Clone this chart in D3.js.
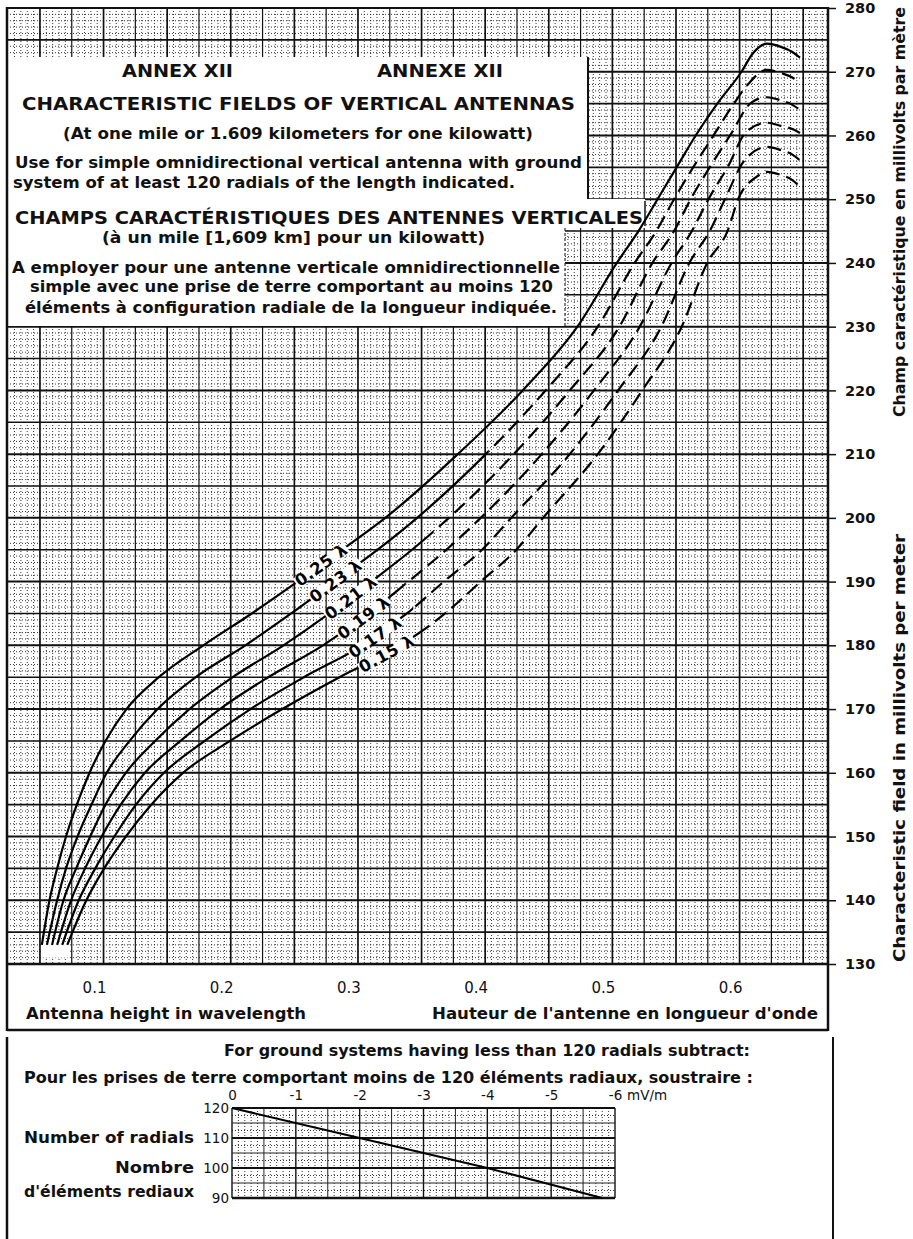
<!DOCTYPE html>
<html>
<head>
<meta charset="utf-8">
<script src="https://cdn.jsdelivr.net/npm/d3@7"></script>
<style>
body { margin: 0; background: #fff; }
svg { display: block; font-family: "DejaVu Sans", sans-serif; }
</style>
</head>
<body>
<svg id="chart" width="913" height="1239"></svg>
<script>
// ---- data ----
var radialLabels = ["0.25 λ", "0.23 λ", "0.21 λ", "0.19 λ", "0.17 λ", "0.15 λ"];

var height25 = [0.059,0.065,0.071,0.078,0.0865,0.0965,0.109,0.1255,0.151,0.186,0.224,0.260,0.295,0.329,0.386,0.437,0.480,0.511,0.528,0.543,0.558,0.573,0.590,0.609,0.618,0.629,0.640,0.649,0.655];
var field25  = [133,140,145,150,155,160,165,170,175,180,185,190,195,200,210,220,230,240,245,250,255,260,265,270,272.9,274.4,273.9,273.1,272.2];

var height23 = [0.063,0.071,0.078,0.087,0.098,0.110,0.128,0.150,0.180,0.219,0.255,0.289,0.323,0.354,0.408,0.455,0.496,0.525,0.542,0.556,0.571,0.587,0.603,0.614,0.629,0.640,0.649,0.655];
var field23  = [133,140,145,150,155,160,165,170,175,180,185,190,195,200,210,220,230,240,245,250,255,260,265,268,270.3,269.8,269.1,268.2];

var height21 = [0.067,0.076,0.086,0.097,0.109,0.125,0.148,0.175,0.209,0.249,0.285,0.318,0.350,0.379,0.430,0.474,0.513,0.539,0.556,0.569,0.584,0.600,0.617,0.629,0.640,0.649,0.655];
var field21  = [133,140,145,150,155,160,165,170,175,180,185,190,195,200,210,220,230,240,245,250,255,260,265.2,266,265.5,264.8,264];

var height19 = [0.071,0.082,0.093,0.106,0.121,0.140,0.168,0.199,0.237,0.280,0.316,0.347,0.377,0.404,0.452,0.493,0.529,0.554,0.570,0.583,0.598,0.613,0.629,0.640,0.649,0.655];
var field19  = [133,140,145,150,155,160,165,170,175,180,185,190,195,200,210,220,230,240,245,250,255,260.6,262,261.5,261,260.4];

var height17 = [0.075,0.088,0.101,0.116,0.133,0.155,0.187,0.223,0.265,0.311,0.346,0.375,0.405,0.428,0.474,0.512,0.546,0.568,0.584,0.596,0.611,0.629,0.640,0.649,0.655];
var field17  = [133,140,145,150,155,160,165,170,175,180,185,190,195,200,210,220,230,240,245,250,256,258.2,257.7,257,256.1];

var height15 = [0.079,0.094,0.108,0.125,0.145,0.170,0.207,0.248,0.293,0.341,0.376,0.404,0.432,0.453,0.496,0.531,0.562,0.582,0.598,0.607,0.620,0.629,0.640,0.649,0.655];
var field15  = [133,140,145,150,155,160,165,170,175,180,185,190,195,200,210,220,230,240,245,250.3,253.4,254.3,253.8,253,251.9];

var heightTicks = [0.1, 0.2, 0.3, 0.4, 0.5, 0.6];
var fieldTicks = [130,140,150,160,170,180,190,200,210,220,230,240,250,260,270,280];

// small chart: radials vs correction
var radialCounts = [120, 110, 100, 90];
var correction = [0, -2, -4, -5.8];
var correctionTicks = [0, -1, -2, -3, -4, -5, -6];

// ---- layout ----
var svg = d3.select("#chart");
var x = d3.scaleLinear().domain([0.0316, 0.677]).range([7, 828]);
var y = d3.scaleLinear().domain([130, 280]).range([964, 8]);

var series = [
  {label: radialLabels[0], h: height25, f: field25, dashFrom: null, labelAt: 0.2785},
  {label: radialLabels[1], h: height23, f: field23, dashFrom: 0.41, labelAt: 0.290},
  {label: radialLabels[2], h: height21, f: field21, dashFrom: 0.367, labelAt: 0.302},
  {label: radialLabels[3], h: height19, f: field19, dashFrom: 0.345, labelAt: 0.312},
  {label: radialLabels[4], h: height17, f: field17, dashFrom: 0.351, labelAt: 0.321},
  {label: radialLabels[5], h: height15, f: field15, dashFrom: 0.357, labelAt: 0.330}
];

var defs = svg.append("defs");

// graph paper
var grid = svg.append("g");
var x0 = x.range()[0], x1 = x.range()[1];

for (var v = 130; v <= 280; v++) {
  var line = grid.append("line")
    .attr("x1", x0).attr("x2", x1)
    .attr("y1", y(v)).attr("y2", y(v));
  if (v % 10 == 0) line.attr("stroke", "#111").attr("stroke-width", 2);
  else if (v % 5 == 0) line.attr("stroke", "#111").attr("stroke-width", 1.6);
  else line.attr("stroke", "#222").attr("stroke-width", 0.9).attr("stroke-dasharray", "1,2");
}
for (var i = 1; ; i++) {
  var hv = 0.0325 + i * 0.005;
  if (x(hv) > x1 - 2) break;
  var vl = grid.append("line")
    .attr("x1", x(hv)).attr("x2", x(hv))
    .attr("y1", y(280)).attr("y2", y(130));
  if (i % 10 == 5) vl.attr("stroke", "#111").attr("stroke-width", 1.7);
  else if (i % 5 == 0) vl.attr("stroke", "#111").attr("stroke-width", 1.2);
  else vl.attr("stroke", "#222").attr("stroke-width", 0.9).attr("stroke-dasharray", "1,2");
}

// blank patch where the curves start
svg.append("rect")
  .attr("x", x(0.059)).attr("y", y(133.3))
  .attr("width", x(0.080) - x(0.059)).attr("height", y(131) - y(133.3))
  .attr("fill", "#fff");

// white title box over the paper
var boxPts = [[7,57],[588,57],[588,199],[645,199],[645,228],[565,228],[565,326],[7,326]];
svg.append("polygon")
  .attr("points", boxPts.map(function(p){ return p.join(","); }).join(" "))
  .attr("fill", "#fff");
svg.append("polyline")
  .attr("points", "588,57 588,199")
  .attr("fill", "none").attr("stroke", "#111").attr("stroke-width", 2);
svg.append("polyline")
  .attr("points", "645,201 645,226")
  .attr("fill", "none").attr("stroke", "#111").attr("stroke-width", 1.5);
svg.append("polyline")
  .attr("points", "565,228 565,326")
  .attr("fill", "none").attr("stroke", "#333").attr("stroke-width", 1.2).attr("stroke-dasharray", "3,2");

var boxText = [
  ["ANNEX XII", 122, 233, 77, 17],
  ["ANNEXE XII", 377, 503, 77, 17],
  ["CHARACTERISTIC FIELDS OF VERTICAL ANTENNAS", 22, 575, 110, 18],
  ["(At one mile or 1.609 kilometers for one kilowatt)", 63, 533, 139, 15.5],
  ["Use for simple omnidirectional vertical antenna with ground", 15, 582, 168, 15.5],
  ["system of at least 120 radials of the length indicated.", 13, 515, 188, 15.5],
  ["CHAMPS CARACTÉRISTIQUES DES ANTENNES VERTICALES", 15, 643, 224, 18],
  ["(à un mile [1,609 km]  pour un kilowatt)", 102, 485, 243, 15.5],
  ["A employer pour une antenne verticale omnidirectionnelle", 12, 560, 273, 15.5],
  ["simple  avec une prise de terre comportant au moins 120", 30, 553, 292, 15.5],
  ["éléments à  configuration radiale de la longueur indiquée.", 25, 557, 313, 15.5]
];
svg.append("g").selectAll("text")
  .data(boxText)
  .enter()
  .append("text")
    .attr("x", function(d){ return d[1]; })
    .attr("y", function(d){ return d[3]; })
    .attr("textLength", function(d){ return d[2] - d[1]; })
    .attr("lengthAdjust", "spacingAndGlyphs")
    .style("font-size", function(d){ return d[4] + "px"; })
    .style("font-weight", "bold")
    .attr("fill", "#111")
    .text(function(d){ return d[0]; });

// curves
var curve = d3.line()
  .x(function(d){ return x(d[0]); })
  .y(function(d){ return y(d[1]); })
  .curve(d3.curveMonotoneX);

var curveG = svg.append("g");
series.forEach(function(s, k) {
  var pts = s.h.map(function(h, j){ return [h, s.f[j]]; });
  if (s.dashFrom == null) {
    curveG.append("path").attr("d", curve(pts))
      .attr("fill", "none").attr("stroke", "#000").attr("stroke-width", 2.2);
  } else {
    defs.append("clipPath").attr("id", "solid" + k).append("rect")
      .attr("x", 0).attr("y", 0).attr("width", x(s.dashFrom)).attr("height", 1239);
    defs.append("clipPath").attr("id", "dash" + k).append("rect")
      .attr("x", x(s.dashFrom)).attr("y", 0).attr("width", 913).attr("height", 1239);
    curveG.append("path").attr("d", curve(pts))
      .attr("clip-path", "url(#solid" + k + ")")
      .attr("fill", "none").attr("stroke", "#000").attr("stroke-width", 2.2);
    curveG.append("path").attr("d", curve(pts))
      .attr("clip-path", "url(#dash" + k + ")")
      .attr("fill", "none").attr("stroke", "#000").attr("stroke-width", 2.2)
      .attr("stroke-dasharray", "14,7");
  }
  s.pts = pts;
});

// inline labels along each curve, on a white patch that breaks the line
var probe = svg.append("path").attr("fill", "none").attr("stroke", "none");
series.forEach(function(s) {
  probe.attr("d", curve(s.pts));
  var node = probe.node(), total = node.getTotalLength();
  var tx = x(s.labelAt), lo = 0, hi = total;
  while (hi - lo > 0.5) {
    var mid = (lo + hi) / 2;
    if (node.getPointAtLength(mid).x < tx) lo = mid; else hi = mid;
  }
  var p = node.getPointAtLength(lo);
  var a = node.getPointAtLength(Math.max(0, lo - 10)), b = node.getPointAtLength(Math.min(total, lo + 10));
  var ang = Math.atan2(b.y - a.y, b.x - a.x) * 180 / Math.PI;
  var lg = svg.append("g")
    .attr("transform", "translate(" + p.x + "," + p.y + ") rotate(" + ang + ")");
  var bg = lg.append("rect").attr("fill", "#fff");
  var t = lg.append("text")
    .attr("text-anchor", "middle")
    .attr("dy", "0.36em")
    .style("font-size", "16.5px")
    .style("font-weight", "bold")
    .style("letter-spacing", "0.6px")
    .attr("fill", "#000")
    .text(s.label);
  var bb = t.node().getBBox();
  bg.attr("x", bb.x - 1).attr("y", -5).attr("width", bb.width + 2).attr("height", 10);
});
probe.remove();

// frame
var frame = svg.append("g").attr("stroke", "#111").attr("fill", "none");
frame.append("line").attr("x1", 7).attr("x2", 7).attr("y1", 7).attr("y2", 1031).attr("stroke-width", 2.5);
frame.append("line").attr("x1", 828).attr("x2", 828).attr("y1", 7).attr("y2", 1031).attr("stroke-width", 2.5);
frame.append("line").attr("x1", 7).attr("x2", 828).attr("y1", y(280)).attr("y2", y(280)).attr("stroke-width", 2);
frame.append("line").attr("x1", 7).attr("x2", 828).attr("y1", y(130)).attr("y2", y(130)).attr("stroke-width", 2.5);
frame.append("line").attr("x1", 7).attr("x2", 828).attr("y1", 1030).attr("y2", 1030).attr("stroke-width", 2.5);

// axes
var rightAxis = svg.append("g")
  .attr("transform", "translate(828,0)")
  .call(d3.axisRight(y).tickValues(fieldTicks).tickSize(8).tickPadding(9));
rightAxis.select(".domain").remove();
rightAxis.selectAll("line").attr("stroke", "#111").attr("stroke-width", 1.5);
rightAxis.selectAll("text")
  .style("font-size", "14.5px").style("font-family", "DejaVu Sans").style("font-weight", "bold")
  .attr("fill", "#111");

var bottomAxis = svg.append("g")
  .attr("transform", "translate(0," + y(130) + ")")
  .call(d3.axisBottom(x).tickValues(heightTicks).tickSize(0).tickPadding(18).tickFormat(d3.format(".1f")));
bottomAxis.select(".domain").remove();
bottomAxis.selectAll("text")
  .style("font-size", "15px").style("font-family", "DejaVu Sans")
  .attr("fill", "#111");

var titles = [
  ["Antenna height in wavelength", 26, 306, 1019],
  ["Hauteur de l'antenne en longueur d'onde", 432, 818, 1019]
];
svg.append("g").selectAll("text")
  .data(titles)
  .enter()
  .append("text")
    .attr("x", function(d){ return d[1]; })
    .attr("y", function(d){ return d[3]; })
    .attr("textLength", function(d){ return d[2] - d[1]; })
    .attr("lengthAdjust", "spacingAndGlyphs")
    .style("font-size", "15.5px").style("font-weight", "bold")
    .attr("fill", "#111")
    .text(function(d){ return d[0]; });

svg.append("text")
  .attr("transform", "translate(905,212) rotate(-90)")
  .attr("text-anchor", "middle")
  .attr("textLength", 410).attr("lengthAdjust", "spacingAndGlyphs")
  .style("font-size", "15px").style("font-weight", "bold").attr("fill", "#111")
  .text("Champ caractéristique en millivolts par mètre");
svg.append("text")
  .attr("transform", "translate(905,748) rotate(-90)")
  .attr("text-anchor", "middle")
  .attr("textLength", 428).attr("lengthAdjust", "spacingAndGlyphs")
  .style("font-size", "15px").style("font-weight", "bold").attr("fill", "#111")
  .text("Characteristic field in millivolts per meter");

// ---- lower panel ----
frame.append("line").attr("x1", 7).attr("x2", 7).attr("y1", 1037).attr("y2", 1239).attr("stroke-width", 2.5);
frame.append("line").attr("x1", 833).attr("x2", 833).attr("y1", 1037).attr("y2", 1239).attr("stroke-width", 2);

var lowText = [
  ["For ground systems having less than 120 radials subtract:", 224, 750, 1056],
  ["Pour les prises de terre comportant moins de 120 éléments radiaux, soustraire :", 24, 753, 1083]
];
svg.append("g").selectAll("text")
  .data(lowText)
  .enter()
  .append("text")
    .attr("x", function(d){ return d[1]; })
    .attr("y", function(d){ return d[3]; })
    .attr("textLength", function(d){ return d[2] - d[1]; })
    .attr("lengthAdjust", "spacingAndGlyphs")
    .style("font-size", "15.5px").style("font-weight", "bold")
    .attr("fill", "#111")
    .text(function(d){ return d[0]; });

var xs = d3.scaleLinear().domain([0, -6]).range([232, 615]);
var ys = d3.scaleLinear().domain([90, 120]).range([1198, 1108]);

var small = svg.append("g");
for (var k = 0; k <= 60; k++) {
  var cv = -k / 10;
  var sl = small.append("line")
    .attr("x1", xs(cv)).attr("x2", xs(cv))
    .attr("y1", ys(120)).attr("y2", ys(90));
  if (k % 10 == 0) sl.attr("stroke", "#111").attr("stroke-width", 1.4);
  else if (k % 5 == 0) sl.attr("stroke", "#222").attr("stroke-width", 1);
  else sl.attr("stroke", "#222").attr("stroke-width", 0.9).attr("stroke-dasharray", "1,2");
}
for (var r = 90; r <= 120; r += 2.5) {
  var hl = small.append("line")
    .attr("x1", xs(0)).attr("x2", xs(-6))
    .attr("y1", ys(r)).attr("y2", ys(r));
  if (r % 10 == 0) hl.attr("stroke", "#111").attr("stroke-width", r == 90 ? 2.5 : 1.8);
  else if (r % 5 == 0) hl.attr("stroke", "#222").attr("stroke-width", 1);
  else hl.attr("stroke", "#222").attr("stroke-width", 0.9).attr("stroke-dasharray", "1,2");
}

var corrLine = d3.line()
  .x(function(d){ return xs(d[0]); })
  .y(function(d){ return ys(d[1]); });
small.append("path")
  .attr("d", corrLine(correction.map(function(c, j){ return [c, radialCounts[j]]; })))
  .attr("fill", "none").attr("stroke", "#000").attr("stroke-width", 2);

var topAxis = svg.append("g")
  .attr("transform", "translate(0," + ys(120) + ")")
  .call(d3.axisTop(xs).tickValues(correctionTicks).tickSize(0).tickPadding(8)
    .tickFormat(function(d){ return d == 0 ? "0" : "-" + Math.abs(d); }));
topAxis.select(".domain").remove();
topAxis.selectAll("text").style("font-size", "13.5px").style("font-family", "DejaVu Sans").attr("fill", "#111");
svg.append("text")
  .attr("x", xs(-6) + 12).attr("y", ys(120) - 8)
  .style("font-size", "13.5px").attr("fill", "#111")
  .text("mV/m");

var leftAxis = svg.append("g")
  .attr("transform", "translate(" + xs(0) + ",0)")
  .call(d3.axisLeft(ys).tickValues(radialCounts).tickSize(0).tickPadding(3));
leftAxis.select(".domain").remove();
leftAxis.selectAll("text").style("font-size", "13.5px").style("font-family", "DejaVu Sans").attr("fill", "#111");

var radialText = [
  ["Number of radials", 24, 194, ys(110) + 5],
  ["Nombre", 115, 194, ys(100) + 5],
  ["d'éléments rediaux", 24, 194, ys(90) - 1]
];
svg.append("g").selectAll("text")
  .data(radialText)
  .enter()
  .append("text")
    .attr("x", function(d){ return d[1]; })
    .attr("y", function(d){ return d[3]; })
    .attr("textLength", function(d){ return d[2] - d[1]; })
    .attr("lengthAdjust", "spacingAndGlyphs")
    .style("font-size", "15.5px").style("font-weight", "bold")
    .attr("fill", "#111")
    .text(function(d){ return d[0]; });
</script>
</body>
</html>
